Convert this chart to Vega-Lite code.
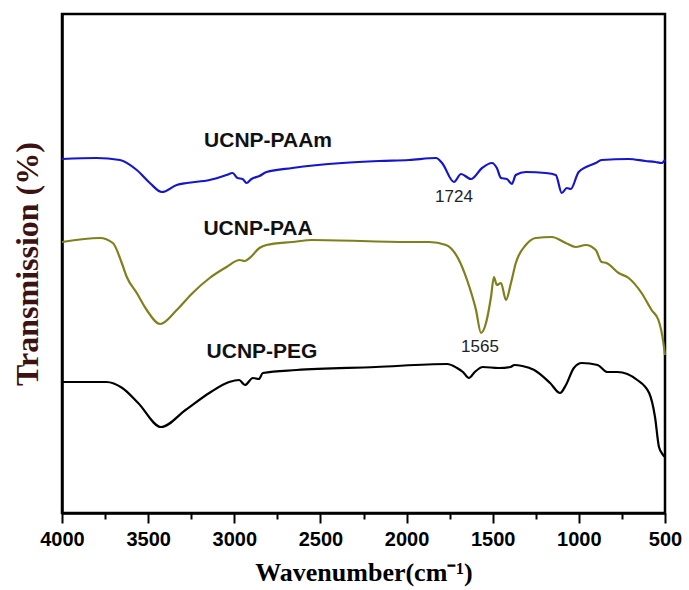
{
  "$schema": "https://vega.github.io/schema/vega-lite/v6.json",
  "width": 603,
  "height": 499,
  "autosize": {"type": "none"},
  "padding": {"left": 62, "top": 14, "right": 24, "bottom": 77},
  "background": "white",
  "config": {
    "view": {"stroke": "black", "strokeWidth": 2.5},
    "axis": {"grid": false}
  },
  "datasets": {
    "spectra": [
      {"s": "UCNP-PAAm", "wn": 4000, "t": 354}, {"s": "UCNP-PAAm", "wn": 3800, "t": 355}, {"s": "UCNP-PAAm", "wn": 3664, "t": 353},
      {"s": "UCNP-PAAm", "wn": 3566, "t": 343}, {"s": "UCNP-PAAm", "wn": 3490, "t": 330}, {"s": "UCNP-PAAm", "wn": 3420, "t": 321},
      {"s": "UCNP-PAAm", "wn": 3334, "t": 328}, {"s": "UCNP-PAAm", "wn": 3276, "t": 330},
      {"s": "UCNP-PAAm", "wn": 3143, "t": 333}, {"s": "UCNP-PAAm", "wn": 3045, "t": 338}, {"s": "UCNP-PAAm", "wn": 3010, "t": 340},
      {"s": "UCNP-PAAm", "wn": 2981, "t": 335}, {"s": "UCNP-PAAm", "wn": 2952, "t": 334}, {"s": "UCNP-PAAm", "wn": 2929, "t": 330},
      {"s": "UCNP-PAAm", "wn": 2900, "t": 334}, {"s": "UCNP-PAAm", "wn": 2854, "t": 337}, {"s": "UCNP-PAAm", "wn": 2813, "t": 341},
      {"s": "UCNP-PAAm", "wn": 2663, "t": 345}, {"s": "UCNP-PAAm", "wn": 2373, "t": 350}, {"s": "UCNP-PAAm", "wn": 2159, "t": 352},
      {"s": "UCNP-PAAm", "wn": 1985, "t": 353}, {"s": "UCNP-PAAm", "wn": 1829, "t": 355}, {"s": "UCNP-PAAm", "wn": 1794, "t": 350},
      {"s": "UCNP-PAAm", "wn": 1725, "t": 331}, {"s": "UCNP-PAAm", "wn": 1684, "t": 339}, {"s": "UCNP-PAAm", "wn": 1626, "t": 334},
      {"s": "UCNP-PAAm", "wn": 1562, "t": 345}, {"s": "UCNP-PAAm", "wn": 1505, "t": 350}, {"s": "UCNP-PAAm", "wn": 1476, "t": 345},
      {"s": "UCNP-PAAm", "wn": 1452, "t": 335}, {"s": "UCNP-PAAm", "wn": 1418, "t": 334}, {"s": "UCNP-PAAm", "wn": 1389, "t": 329},
      {"s": "UCNP-PAAm", "wn": 1366, "t": 338}, {"s": "UCNP-PAAm", "wn": 1308, "t": 341}, {"s": "UCNP-PAAm", "wn": 1192, "t": 340},
      {"s": "UCNP-PAAm", "wn": 1134, "t": 338}, {"s": "UCNP-PAAm", "wn": 1099, "t": 320}, {"s": "UCNP-PAAm", "wn": 1070, "t": 325},
      {"s": "UCNP-PAAm", "wn": 1047, "t": 324}, {"s": "UCNP-PAAm", "wn": 1001, "t": 341}, {"s": "UCNP-PAAm", "wn": 902, "t": 350},
      {"s": "UCNP-PAAm", "wn": 868, "t": 353}, {"s": "UCNP-PAAm", "wn": 711, "t": 354}, {"s": "UCNP-PAAm", "wn": 613, "t": 352},
      {"s": "UCNP-PAAm", "wn": 556, "t": 351}, {"s": "UCNP-PAAm", "wn": 520, "t": 350}, {"s": "UCNP-PAAm", "wn": 500, "t": 353},

      {"s": "UCNP-PAA", "wn": 4000, "t": 271}, {"s": "UCNP-PAA", "wn": 3780, "t": 275}, {"s": "UCNP-PAA", "wn": 3705, "t": 270},
      {"s": "UCNP-PAA", "wn": 3653, "t": 250}, {"s": "UCNP-PAA", "wn": 3624, "t": 236}, {"s": "UCNP-PAA", "wn": 3566, "t": 220},
      {"s": "UCNP-PAA", "wn": 3508, "t": 203}, {"s": "UCNP-PAA", "wn": 3430, "t": 189},
      {"s": "UCNP-PAA", "wn": 3334, "t": 203}, {"s": "UCNP-PAA", "wn": 3242, "t": 220}, {"s": "UCNP-PAA", "wn": 3143, "t": 235},
      {"s": "UCNP-PAA", "wn": 3045, "t": 246}, {"s": "UCNP-PAA", "wn": 2969, "t": 253}, {"s": "UCNP-PAA", "wn": 2940, "t": 252},
      {"s": "UCNP-PAA", "wn": 2911, "t": 255}, {"s": "UCNP-PAA", "wn": 2854, "t": 265}, {"s": "UCNP-PAA", "wn": 2813, "t": 268},
      {"s": "UCNP-PAA", "wn": 2663, "t": 271}, {"s": "UCNP-PAA", "wn": 2547, "t": 273}, {"s": "UCNP-PAA", "wn": 1985, "t": 271},
      {"s": "UCNP-PAA", "wn": 1869, "t": 271}, {"s": "UCNP-PAA", "wn": 1771, "t": 268}, {"s": "UCNP-PAA", "wn": 1696, "t": 253},
      {"s": "UCNP-PAA", "wn": 1649, "t": 233}, {"s": "UCNP-PAA", "wn": 1597, "t": 203}, {"s": "UCNP-PAA", "wn": 1568, "t": 180},
      {"s": "UCNP-PAA", "wn": 1539, "t": 190}, {"s": "UCNP-PAA", "wn": 1510, "t": 216}, {"s": "UCNP-PAA", "wn": 1493, "t": 236},
      {"s": "UCNP-PAA", "wn": 1476, "t": 228}, {"s": "UCNP-PAA", "wn": 1452, "t": 230}, {"s": "UCNP-PAA", "wn": 1423, "t": 213},
      {"s": "UCNP-PAA", "wn": 1394, "t": 230}, {"s": "UCNP-PAA", "wn": 1366, "t": 250}, {"s": "UCNP-PAA", "wn": 1308, "t": 268},
      {"s": "UCNP-PAA", "wn": 1250, "t": 275}, {"s": "UCNP-PAA", "wn": 1157, "t": 276}, {"s": "UCNP-PAA", "wn": 1076, "t": 270},
      {"s": "UCNP-PAA", "wn": 1018, "t": 266}, {"s": "UCNP-PAA", "wn": 960, "t": 268}, {"s": "UCNP-PAA", "wn": 902, "t": 263},
      {"s": "UCNP-PAA", "wn": 868, "t": 251}, {"s": "UCNP-PAA", "wn": 839, "t": 250}, {"s": "UCNP-PAA", "wn": 769, "t": 240},
      {"s": "UCNP-PAA", "wn": 711, "t": 235}, {"s": "UCNP-PAA", "wn": 636, "t": 220}, {"s": "UCNP-PAA", "wn": 578, "t": 203},
      {"s": "UCNP-PAA", "wn": 538, "t": 193}, {"s": "UCNP-PAA", "wn": 509, "t": 170}, {"s": "UCNP-PAA", "wn": 500, "t": 158},

      {"s": "UCNP-PEG", "wn": 4000, "t": 131}, {"s": "UCNP-PEG", "wn": 3742, "t": 131}, {"s": "UCNP-PEG", "wn": 3650, "t": 125},
      {"s": "UCNP-PEG", "wn": 3558, "t": 110}, {"s": "UCNP-PEG", "wn": 3425, "t": 86},
      {"s": "UCNP-PEG", "wn": 3283, "t": 103}, {"s": "UCNP-PEG", "wn": 3145, "t": 120}, {"s": "UCNP-PEG", "wn": 3030, "t": 131},
      {"s": "UCNP-PEG", "wn": 2972, "t": 133}, {"s": "UCNP-PEG", "wn": 2938, "t": 128}, {"s": "UCNP-PEG", "wn": 2892, "t": 135},
      {"s": "UCNP-PEG", "wn": 2857, "t": 134}, {"s": "UCNP-PEG", "wn": 2834, "t": 140}, {"s": "UCNP-PEG", "wn": 2639, "t": 143},
      {"s": "UCNP-PEG", "wn": 2179, "t": 146}, {"s": "UCNP-PEG", "wn": 1765, "t": 149}, {"s": "UCNP-PEG", "wn": 1707, "t": 145},
      {"s": "UCNP-PEG", "wn": 1673, "t": 141}, {"s": "UCNP-PEG", "wn": 1638, "t": 135}, {"s": "UCNP-PEG", "wn": 1604, "t": 141},
      {"s": "UCNP-PEG", "wn": 1558, "t": 146}, {"s": "UCNP-PEG", "wn": 1466, "t": 145}, {"s": "UCNP-PEG", "wn": 1397, "t": 146},
      {"s": "UCNP-PEG", "wn": 1374, "t": 148}, {"s": "UCNP-PEG", "wn": 1328, "t": 147}, {"s": "UCNP-PEG", "wn": 1259, "t": 143},
      {"s": "UCNP-PEG", "wn": 1167, "t": 130}, {"s": "UCNP-PEG", "wn": 1109, "t": 120}, {"s": "UCNP-PEG", "wn": 1075, "t": 128},
      {"s": "UCNP-PEG", "wn": 1029, "t": 145}, {"s": "UCNP-PEG", "wn": 983, "t": 150}, {"s": "UCNP-PEG", "wn": 891, "t": 148},
      {"s": "UCNP-PEG", "wn": 834, "t": 141}, {"s": "UCNP-PEG", "wn": 776, "t": 141}, {"s": "UCNP-PEG", "wn": 661, "t": 133},
      {"s": "UCNP-PEG", "wn": 592, "t": 120}, {"s": "UCNP-PEG", "wn": 558, "t": 96}, {"s": "UCNP-PEG", "wn": 535, "t": 66},
      {"s": "UCNP-PEG", "wn": 511, "t": 58}, {"s": "UCNP-PEG", "wn": 500, "t": 56}
    ],
    "names": [
      {"label": "UCNP-PAAm", "wn": 2804, "t": 366},
      {"label": "UCNP-PAA", "wn": 2862, "t": 278},
      {"label": "UCNP-PEG", "wn": 2839, "t": 155}
    ],
    "peaks": [
      {"label": "1724", "wn": 1725, "t": 311},
      {"label": "1565", "wn": 1574, "t": 161}
    ]
  },
  "encoding": {
    "x": {
      "field": "wn",
      "type": "quantitative",
      "scale": {"domain": [500, 4000], "reverse": true, "nice": false, "zero": false},
      "axis": {
        "title": "Wavenumber(cm⁻¹)",
        "titleFont": "Liberation Serif",
        "titleFontSize": 26,
        "titleFontWeight": "bold",
        "titleColor": "black",
        "titlePadding": 10,
        "values": [500, 750, 1000, 1250, 1500, 1750, 2000, 2250, 2500, 2750, 3000, 3250, 3500, 3750, 4000],
        "format": "d",
        "labelExpr": "datum.value % 500 === 0 ? datum.label : ''",
        "labelOverlap": false,
        "labelFont": "Liberation Sans",
        "labelFontSize": 20,
        "labelFontWeight": "bold",
        "labelColor": "black",
        "labelPadding": 6,
        "labelFlush": false,
        "tickSize": {"condition": {"test": "datum.value % 500 === 0", "value": 10}, "value": 6},
        "tickWidth": 2,
        "tickColor": "black",
        "domainColor": "black",
        "domainWidth": 2.5
      }
    },
    "y": {
      "field": "t",
      "type": "quantitative",
      "scale": {"domain": [0, 499], "nice": false, "zero": false},
      "axis": {
        "title": "Transmission (%)",
        "titleFont": "Liberation Serif",
        "titleFontSize": 32,
        "titleFontWeight": "bold",
        "titleColor": "#3d1212",
        "titlePadding": 18,
        "labels": false,
        "ticks": false,
        "domainColor": "black",
        "domainWidth": 2.5
      }
    }
  },
  "layer": [
    {
      "data": {"name": "spectra"},
      "mark": {"type": "line", "strokeWidth": 2.2, "interpolate": "monotone"},
      "encoding": {
        "color": {
          "field": "s",
          "type": "nominal",
          "scale": {"domain": ["UCNP-PAAm", "UCNP-PAA", "UCNP-PEG"], "range": ["#1515cc", "#7f7f1c", "#000000"]},
          "legend": null
        },
        "detail": {"field": "s"}
      }
    },
    {
      "data": {"name": "names"},
      "mark": {"type": "text", "font": "Liberation Sans", "fontSize": 21, "fontWeight": "bold", "align": "center", "baseline": "alphabetic", "color": "#111111"},
      "encoding": {"text": {"field": "label"}}
    },
    {
      "data": {"name": "peaks"},
      "mark": {"type": "text", "font": "Liberation Sans", "fontSize": 17, "align": "center", "baseline": "alphabetic", "color": "#222222"},
      "encoding": {"text": {"field": "label"}}
    }
  ]
}
